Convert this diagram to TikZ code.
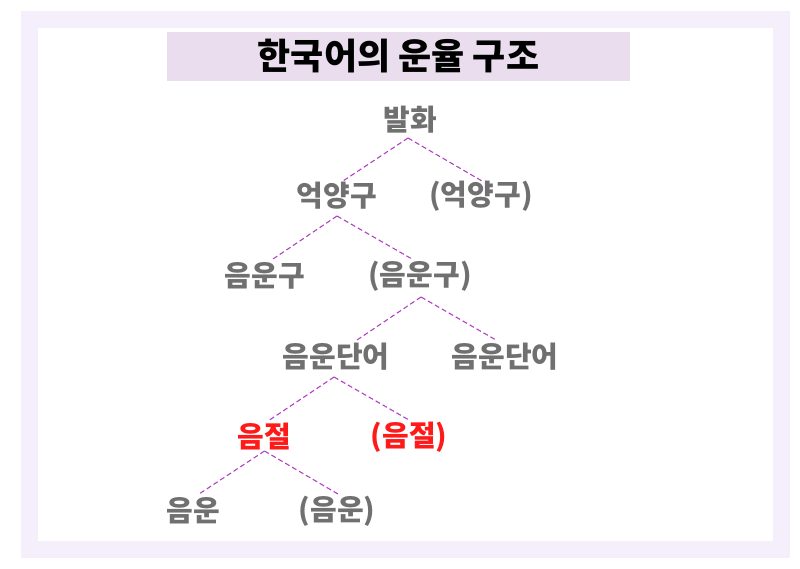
\documentclass[tikz,border=0pt]{standalone}
\usepackage{fontspec}
\newfontfamily\kr{Noto Sans CJK KR}
\definecolor{outerbg}{HTML}{F5EFFC}
\definecolor{titlebg}{HTML}{EADDEE}
\definecolor{nodegray}{HTML}{707070}
\definecolor{hired}{HTML}{FF1A1A}
\definecolor{linepurple}{HTML}{B044C0}
\tikzset{
  lvl/.style={inner sep=0pt, font=\kr\bfseries\fontsize{29}{33}\selectfont, text=nodegray},
  hl/.style={lvl, text=hired},
  edge/.style={draw=linepurple, line width=1.1pt, dash pattern=on 5pt off 3pt},
}
\begin{document}
\begin{tikzpicture}[x=1pt,y=-1pt]
\useasboundingbox (0,0) rectangle (800,568);
\fill[outerbg] (21,11) rectangle (790,558);
\fill[white] (38,28) rectangle (773,541);
\node[fill=titlebg, minimum width=463pt, minimum height=49pt, inner sep=0pt,
      font=\kr\bfseries\fontsize{36}{40}\selectfont, text=black] (title) at (398.5,56.5) {한국어의 운율 구조};

\node[lvl] (u)   at (410,120) {발화};
\node[lvl] (ip1) at (337,196) {억양구};
\node[lvl] (ip2) at (481,196) {(억양구)};
\node[lvl] (pp1) at (265,276) {음운구};
\node[lvl] (pp2) at (420,276) {(음운구)};
\node[lvl] (pw1) at (336,357) {음운단어};
\node[lvl] (pw2) at (505,357) {음운단어};
\node[hl]  (s1)  at (264.5,437) {음절};
\node[hl]  (s2)  at (409,437) {(음절)};
\node[lvl] (ph1) at (193,511) {음운};
\node[lvl] (ph2) at (337,511) {(음운)};

\draw[edge] ([shift={(-2,18)}]u.center) -- ([shift={(6,-15)}]ip1.center);
\draw[edge] ([shift={(-2,18)}]u.center) -- ([shift={(1,-15)}]ip2.center);
\draw[edge] ([shift={(0,20)}]ip1.center) -- ([shift={(8,-17)}]pp1.center);
\draw[edge] ([shift={(0,20)}]ip1.center) -- ([shift={(-8,-17)}]pp2.center);
\draw[edge] ([shift={(1,21)}]pp2.center) -- ([shift={(21,-17)}]pw1.center);
\draw[edge] ([shift={(1,21)}]pp2.center) -- ([shift={(-9,-17)}]pw2.center);
\draw[edge] ([shift={(-2,20)}]pw1.center) -- ([shift={(5,-17)}]s1.center);
\draw[edge] ([shift={(-2,20)}]pw1.center) -- ([shift={(0,-17)}]s2.center);
\draw[edge] ([shift={(0,14)}]s1.center) -- ([shift={(6,-17)}]ph1.center);
\draw[edge] ([shift={(0,14)}]s1.center) -- ([shift={(1,-17)}]ph2.center);
\end{tikzpicture}
\end{document}
